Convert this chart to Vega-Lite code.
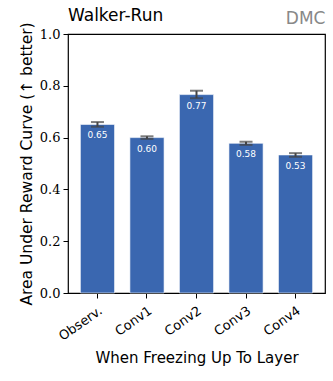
{
  "$schema": "https://vega.github.io/schema/vega-lite/v6.json",
  "width": 257,
  "height": 259,
  "autosize": {"type": "none"},
  "padding": {"left": 68, "top": 34, "right": 8, "bottom": 88},
  "title": {"text": "Walker-Run", "anchor": "start", "frame": "group", "font": "DejaVu Sans", "fontSize": 17, "fontWeight": "normal", "color": "#000", "offset": 7, "dy": 23},
  "config": {
    "view": {"stroke": "#000", "strokeWidth": 1.2},
    "axis": {"grid": false, "domainColor": "#000", "tickColor": "#000", "labelColor": "#000", "titleColor": "#000", "titleFontWeight": "normal"}
  },
  "data": {"values": [
    {"layer": "Observ.", "value": 0.651, "lo": 0.642, "hi": 0.660, "label": "0.65"},
    {"layer": "Conv1", "value": 0.600, "lo": 0.595, "hi": 0.605, "label": "0.60"},
    {"layer": "Conv2", "value": 0.766, "lo": 0.752, "hi": 0.781, "label": "0.77"},
    {"layer": "Conv3", "value": 0.578, "lo": 0.572, "hi": 0.584, "label": "0.58"},
    {"layer": "Conv4", "value": 0.533, "lo": 0.526, "hi": 0.540, "label": "0.53"}
  ]},
  "layer": [
    {
      "mark": {"type": "bar", "color": "#3A67B0", "stroke": "#ffffff", "strokeWidth": 1, "strokeOpacity": 0.6},
      "encoding": {
        "x": {"field": "layer", "type": "nominal", "sort": null,
          "scale": {"paddingInner": 0.31, "paddingOuter": 0.25},
          "axis": {"title": "When Freezing Up To Layer", "labelAngle": -35, "labelAlign": "right", "labelBaseline": "top", "labelFont": "DejaVu Sans", "labelFontSize": 13, "titleFont": "DejaVu Sans", "titleFontSize": 15, "tickSize": 5, "labelPadding": 6, "titlePadding": 8, "domain": false}},
        "y": {"field": "value", "type": "quantitative", "scale": {"domain": [0, 1]},
          "axis": {"title": "Area Under Reward Curve (↑ better)", "values": [0, 0.2, 0.4, 0.6, 0.8, 1.0], "format": ".1f", "labelFont": "DejaVu Serif", "labelFontSize": 13, "titleFont": "DejaVu Sans", "titleFontSize": 15.5, "tickSize": 5, "labelPadding": 3, "titlePadding": 5, "domain": false}}
      }
    },
    {
      "mark": {"type": "rule", "color": "#444444", "strokeWidth": 2},
      "encoding": {
        "x": {"field": "layer", "type": "nominal", "sort": null, "axis": null},
        "y": {"field": "lo", "type": "quantitative"},
        "y2": {"field": "hi"}
      }
    },
    {
      "mark": {"type": "tick", "color": "#444444", "thickness": 2, "size": 13},
      "encoding": {
        "x": {"field": "layer", "type": "nominal", "sort": null, "axis": null},
        "y": {"field": "lo", "type": "quantitative"}
      }
    },
    {
      "mark": {"type": "tick", "color": "#444444", "thickness": 2, "size": 13},
      "encoding": {
        "x": {"field": "layer", "type": "nominal", "sort": null, "axis": null},
        "y": {"field": "hi", "type": "quantitative"}
      }
    },
    {
      "mark": {"type": "text", "color": "#ffffff", "fontSize": 9, "font": "DejaVu Sans", "dy": 11, "baseline": "middle"},
      "encoding": {
        "x": {"field": "layer", "type": "nominal", "sort": null, "axis": null},
        "y": {"field": "value", "type": "quantitative"},
        "text": {"field": "label"}
      }
    },
    {
      "mark": {"type": "point", "opacity": 0},
      "encoding": {
        "x": {"field": "layer", "type": "nominal", "sort": null,
          "axis": {"orient": "top", "title": "DMC", "titleAnchor": "end", "titleColor": "#888888", "titleFont": "DejaVu Sans", "titleFontSize": 17, "titleFontWeight": "normal", "labels": false, "ticks": false, "domain": false, "titlePadding": 7}},
        "y": {"field": "value", "type": "quantitative"}
      }
    }
  ],
  "resolve": {"axis": {"x": "independent"}}
}
